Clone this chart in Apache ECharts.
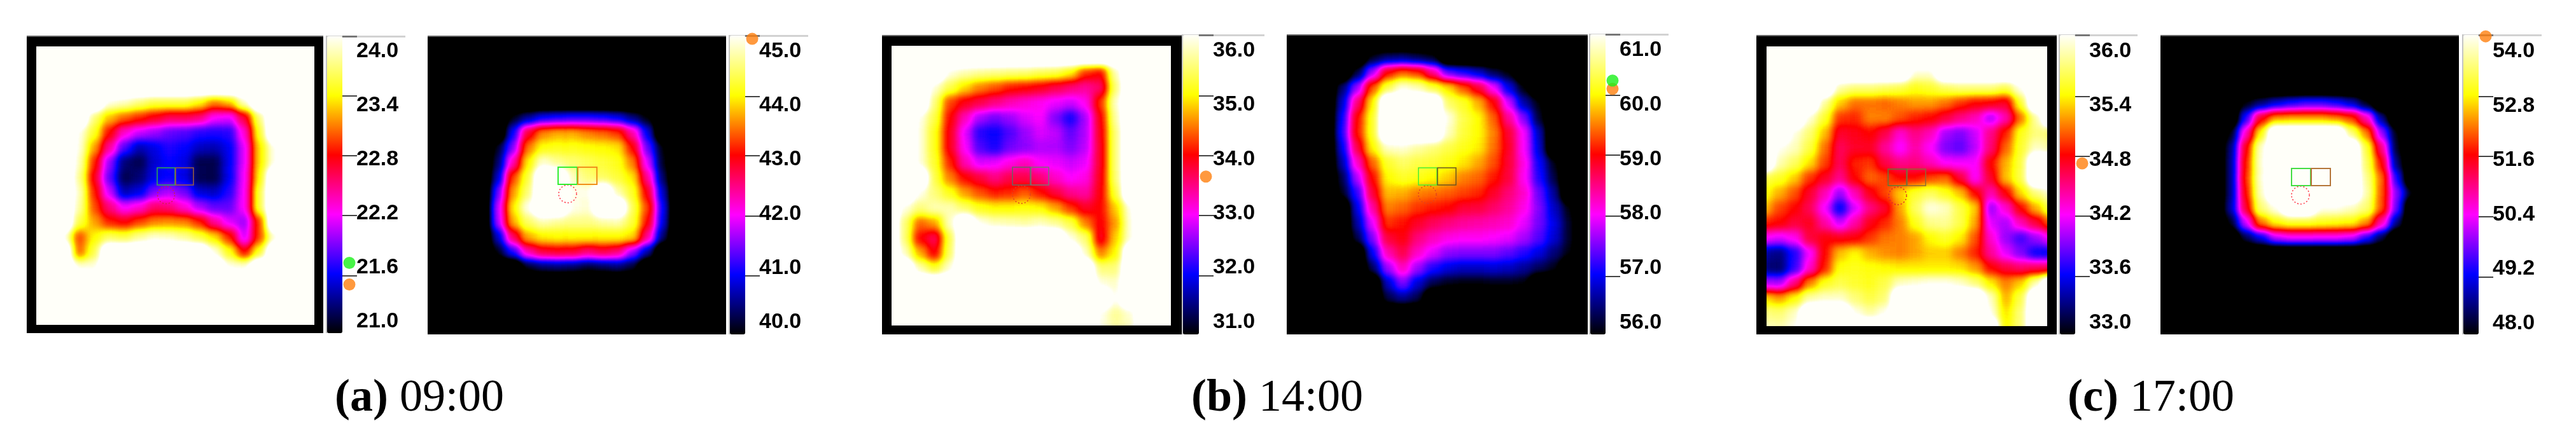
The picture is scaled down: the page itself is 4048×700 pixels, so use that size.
<!DOCTYPE html>
<html>
<head>
<meta charset="utf-8">
<script src="https://cdn.jsdelivr.net/npm/echarts@6/dist/echarts.min.js"></script>
<style>
  html, body { margin: 0; padding: 0; background: #fff; }
  #heat, #over { position: absolute; left: 0; top: 0; width: 4048px; height: 700px; }
</style>
</head>
<body>
<svg width="0" height="0" style="position:absolute">
  <filter id="thermal" x="0" y="0" width="100%" height="100%" color-interpolation-filters="sRGB">
    <feComponentTransfer>
      <feFuncR id="fr" type="table"></feFuncR>
      <feFuncG id="fg" type="table"></feFuncG>
      <feFuncB id="fb" type="table"></feFuncB>
    </feComponentTransfer>
  </filter>
</svg>
<div id="heat"></div>
<div id="over"></div>
<script>
// temperatures, 20 x 20 cells, top row first
const heatA1 = [
  [24.2,24.2,24.2,24.2,24.2,24.2,24.2,24.2,24.2,24.2,24.2,24.2,24.2,24.2,24.2,24.2,24.2,24.2,24.2,24.2],
  [24.2,24.2,24.2,24.2,24.2,24.2,24.2,24.2,24.2,24.2,24.2,24.2,24.2,24.2,24.2,24.2,24.2,24.2,24.2,24.2],
  [24.2,24.2,24.2,24.2,24.2,24.2,24.2,24.2,24.2,24.2,24.2,24.2,24.2,24.2,24.2,24.2,24.2,24.2,24.2,24.2],
  [24.2,24.2,24.2,24.2,24.2,24.2,24.2,24.2,24.2,24.2,24.2,24.2,24.2,24.2,24.2,24.2,24.2,24.2,24.2,24.2],
  [24.2,24.2,24.2,24.2,24.2,24.13,24.04,23.87,23.71,23.71,23.71,23.54,23.21,23.38,24.04,24.2,24.2,24.2,24.2,24.2],
  [24.2,24.2,24.2,24.2,23.87,23.38,23.14,22.98,22.81,22.65,22.65,22.55,22.22,22.15,22.72,23.87,24.2,24.2,24.2,24.2],
  [24.2,24.2,24.2,24.17,23.64,22.88,22.35,22.09,21.96,21.82,21.76,21.66,21.63,21.66,22.32,23.64,24.2,24.2,24.2,24.2],
  [24.2,24.2,24.2,24.13,23.31,22.48,21.76,21.36,21.49,21.63,21.56,21.4,21.36,21.53,22.15,23.47,24.17,24.2,24.2,24.2],
  [24.2,24.2,24.2,24.04,22.98,21.96,21.2,21.1,21.43,21.56,21.49,21.1,21.1,21.53,22.15,23.47,24.17,24.2,24.2,24.2],
  [24.2,24.2,24.2,23.94,22.81,21.82,21.1,21.2,21.49,21.56,21.49,21.1,21.07,21.53,22.19,23.54,24.2,24.2,24.2,24.2],
  [24.2,24.2,24.2,24.04,22.95,22.09,21.36,21.49,21.89,22.02,21.86,21.46,21.4,21.66,22.22,23.71,24.2,24.2,24.2,24.2],
  [24.2,24.2,24.2,23.97,23.08,22.55,22.19,22.32,22.62,22.55,22.32,22.02,21.82,21.82,22.22,23.71,24.2,24.2,24.2,24.2],
  [24.2,24.2,24.2,23.74,23.31,22.95,22.85,23.05,23.21,23.24,23.21,22.98,22.48,22.15,21.96,23.05,24.2,24.2,24.2,24.2],
  [24.2,24.2,24.17,23.05,23.54,23.8,23.71,23.94,24.1,24.07,23.94,23.71,23.47,22.98,22.09,23.05,24.1,24.2,24.2,24.2],
  [24.2,24.2,24.2,23.14,23.74,24.2,24.2,24.2,24.2,24.2,24.2,24.2,24.13,23.61,22.88,23.64,24.2,24.2,24.2,24.2],
  [24.2,24.2,24.2,24.13,24.13,24.2,24.2,24.2,24.2,24.2,24.2,24.2,24.2,24.17,24.13,24.2,24.2,24.2,24.2,24.2],
  [24.2,24.2,24.2,24.2,24.2,24.2,24.2,24.2,24.2,24.2,24.2,24.2,24.2,24.2,24.2,24.2,24.2,24.2,24.2,24.2],
  [24.2,24.2,24.2,24.2,24.2,24.2,24.2,24.2,24.2,24.2,24.2,24.2,24.2,24.2,24.2,24.2,24.2,24.2,24.2,24.2],
  [24.2,24.2,24.2,24.2,24.2,24.2,24.2,24.2,24.2,24.2,24.2,24.2,24.2,24.2,24.2,24.2,24.2,24.2,24.2,24.2],
  [24.2,24.2,24.2,24.2,24.2,24.2,24.2,24.2,24.2,24.2,24.2,24.2,24.2,24.2,24.2,24.2,24.2,24.2,24.2,24.2]
];
const heatA2 = [
  [39.8,39.8,39.8,39.8,39.8,39.8,39.8,39.8,39.8,39.8,39.8,39.8,39.8,39.8,39.8,39.8,39.8,39.8,39.8,39.8],
  [39.8,39.8,39.8,39.8,39.8,39.8,39.8,39.8,39.8,39.8,39.8,39.8,39.8,39.8,39.8,39.8,39.8,39.8,39.8,39.8],
  [39.8,39.8,39.8,39.8,39.8,39.8,39.8,39.8,39.8,39.8,39.8,39.8,39.8,39.8,39.8,39.8,39.8,39.8,39.8,39.8],
  [39.8,39.8,39.8,39.8,39.8,39.8,39.8,39.8,39.8,39.8,39.8,39.8,39.8,39.8,39.8,39.8,39.8,39.8,39.8,39.8],
  [39.8,39.8,39.8,39.8,39.8,39.8,39.8,39.8,39.8,39.8,39.8,39.8,39.8,39.8,39.8,39.8,39.8,39.8,39.8,39.8],
  [39.8,39.8,39.8,39.8,39.8,39.91,40.46,40.9,41.01,41.12,41.12,41.01,40.85,40.35,39.86,39.8,39.8,39.8,39.8,39.8],
  [39.8,39.8,39.8,39.8,39.8,40.9,42.88,43.65,43.82,43.82,43.65,43.54,43.32,42.39,40.79,39.8,39.8,39.8,39.8,39.8],
  [39.8,39.8,39.8,39.8,39.97,41.45,43.6,44.26,44.31,44.31,44.26,44.2,44.09,43.1,41.34,39.86,39.8,39.8,39.8,39.8],
  [39.8,39.8,39.8,39.8,40.24,42.28,44.15,45.14,44.86,44.7,44.59,44.48,44.31,43.65,41.84,39.97,39.8,39.8,39.8,39.8],
  [39.8,39.8,39.8,39.8,40.63,43.38,44.48,45.3,45.3,45.03,44.75,44.64,44.48,44.09,42.44,40.24,39.8,39.8,39.8,39.8],
  [39.8,39.8,39.8,39.8,41.34,43.76,44.7,45.3,45.3,45.25,45.25,45.3,44.97,44.37,42.99,40.63,39.8,39.8,39.8,39.8],
  [39.8,39.8,39.8,39.8,41.73,44.09,45.25,45.3,45.3,45.25,45.14,45.3,45.3,44.59,43.38,40.9,39.8,39.8,39.8,39.8],
  [39.8,39.8,39.8,39.8,41.62,43.82,44.64,44.97,44.86,44.81,44.81,44.92,44.97,44.48,43.1,40.79,39.8,39.8,39.8,39.8],
  [39.8,39.8,39.8,39.8,40.63,42.66,43.82,44.15,44.2,44.2,44.2,44.2,44.2,44.04,42.44,40.3,39.8,39.8,39.8,39.8],
  [39.8,39.8,39.8,39.8,39.91,41.01,42.33,42.83,42.94,42.88,42.55,42.77,42.55,41.56,40.52,39.8,39.8,39.8,39.8,39.8],
  [39.8,39.8,39.8,39.8,39.8,39.8,39.97,40.24,40.3,40.24,40.02,40.19,40.3,40.02,39.8,39.8,39.8,39.8,39.8,39.8],
  [39.8,39.8,39.8,39.8,39.8,39.8,39.8,39.8,39.8,39.8,39.8,39.8,39.8,39.8,39.8,39.8,39.8,39.8,39.8,39.8],
  [39.8,39.8,39.8,39.8,39.8,39.8,39.8,39.8,39.8,39.8,39.8,39.8,39.8,39.8,39.8,39.8,39.8,39.8,39.8,39.8],
  [39.8,39.8,39.8,39.8,39.8,39.8,39.8,39.8,39.8,39.8,39.8,39.8,39.8,39.8,39.8,39.8,39.8,39.8,39.8,39.8],
  [39.8,39.8,39.8,39.8,39.8,39.8,39.8,39.8,39.8,39.8,39.8,39.8,39.8,39.8,39.8,39.8,39.8,39.8,39.8,39.8]
];
const heatB1 = [
  [36.3,36.3,36.3,36.3,36.3,36.3,36.3,36.3,36.3,36.3,36.3,36.3,36.3,36.3,36.3,36.3,36.3,36.3,36.3,36.3],
  [36.3,36.3,36.3,36.3,36.3,36.3,36.3,36.3,36.3,36.3,36.3,36.3,36.3,36.3,36.3,36.3,36.3,36.3,36.3,36.3],
  [36.3,36.3,36.3,36.3,36.19,35.97,35.86,35.81,35.75,35.7,35.59,35.53,35.2,34.32,34.1,35.97,36.3,36.3,36.3,36.3],
  [36.3,36.3,36.3,36.14,35.53,35.04,34.65,34.43,34.21,34.1,33.99,33.77,33.61,33.44,33.66,35.7,36.3,36.3,36.3,36.3],
  [36.3,36.3,36.3,35.75,34.38,33.99,33.77,33.55,33.33,33.17,33.06,32.89,32.78,33.06,34.32,36.08,36.3,36.3,36.3,36.3],
  [36.3,36.3,36.25,35.53,34.1,33.28,32.62,32.4,32.56,32.84,33,32.45,31.96,32.62,34.05,35.92,36.3,36.3,36.3,36.3],
  [36.3,36.3,36.19,35.31,33.99,32.89,32.07,31.9,32.23,32.56,32.84,32.73,32.34,32.67,33.99,35.75,36.3,36.3,36.3,36.3],
  [36.3,36.3,36.19,35.31,33.99,33,32.23,32.01,32.4,32.51,32.67,32.67,32.45,32.73,33.94,35.75,36.3,36.3,36.3,36.3],
  [36.3,36.3,36.19,35.42,34.27,33.33,32.84,32.89,33.11,33.28,33,32.89,32.78,32.89,33.94,35.75,36.3,36.3,36.3,36.3],
  [36.3,36.3,36.3,35.53,34.65,34.1,33.83,33.55,33.77,33.77,33.61,33.22,33,33.11,33.99,35.7,36.3,36.3,36.3,36.3],
  [36.3,36.3,36.25,35.75,35.31,34.76,34.43,34.21,34.27,34.49,34.16,33.83,33.5,33.39,34.05,35.48,36.3,36.3,36.3,36.3],
  [36.3,36.19,35.75,35.97,35.97,35.64,35.31,35.2,35.2,35.26,35.2,34.82,34.32,33.94,34.1,34.98,36.25,36.3,36.3,36.3],
  [36.3,35.75,34.54,34.76,36.03,36.3,36.25,36.03,35.97,35.92,36.03,35.86,35.53,34.65,34.05,34.76,36.19,36.3,36.3,36.3],
  [36.3,35.75,34.1,33.72,35.53,36.3,36.3,36.3,36.3,36.3,36.3,36.3,36.19,35.7,33.94,34.98,36.19,36.3,36.3,36.3],
  [36.3,36.08,34.87,34.05,35.64,36.3,36.3,36.3,36.3,36.3,36.3,36.3,36.3,36.08,34.65,35.2,36.3,36.3,36.3,36.3],
  [36.3,36.3,35.97,35.42,36.14,36.3,36.3,36.3,36.3,36.3,36.3,36.3,36.3,36.3,35.75,35.75,36.3,36.3,36.3,36.3],
  [36.3,36.3,36.3,36.3,36.3,36.3,36.3,36.3,36.3,36.3,36.3,36.3,36.3,36.3,36.19,36.08,36.3,36.3,36.3,36.3],
  [36.3,36.3,36.3,36.3,36.3,36.3,36.3,36.3,36.3,36.3,36.3,36.3,36.3,36.3,36.3,36.25,36.3,36.3,36.3,36.3],
  [36.3,36.3,36.3,36.3,36.3,36.3,36.3,36.3,36.3,36.3,36.3,36.3,36.3,36.3,36.25,35.86,36.14,36.3,36.3,36.3],
  [36.3,36.3,36.3,36.3,36.3,36.3,36.3,36.3,36.3,36.3,36.3,36.3,36.3,36.3,36.19,35.92,36.03,36.3,36.3,36.3]
];
const heatB2 = [
  [55.8,55.8,55.8,55.8,55.8,55.8,55.8,55.8,55.8,55.8,55.8,55.8,55.8,55.8,55.8,55.8,55.8,55.8,55.8,55.8],
  [55.8,55.8,55.8,55.8,55.8,55.97,56.3,56.35,56.19,55.97,55.8,55.8,55.8,55.8,55.8,55.8,55.8,55.8,55.8,55.8],
  [55.8,55.8,55.8,55.8,56.08,57.62,59.1,59.54,59.32,58.5,57.34,57.01,56.68,56.19,55.86,55.8,55.8,55.8,55.8,55.8],
  [55.8,55.8,55.8,56.24,57.56,59.43,60.53,61.19,60.97,60.48,60.04,59.43,58.88,57.95,56.79,55.86,55.8,55.8,55.8,55.8],
  [55.8,55.8,55.8,56.63,58.55,60.15,61.3,61.3,61.3,61.3,60.64,60.37,59.87,59.1,57.78,56.52,55.86,55.8,55.8,55.8],
  [55.8,55.8,55.8,56.9,59.1,60.37,61.3,61.3,61.3,61.3,61.19,60.53,60.2,59.49,58.44,57.45,56.02,55.8,55.8,55.8],
  [55.8,55.8,55.8,57.01,59.16,60.37,61.3,61.3,61.3,61.3,61.03,60.48,60.2,59.65,58.88,57.95,56.57,55.8,55.8,55.8],
  [55.8,55.8,55.8,56.79,58.77,60.2,61.08,61.14,60.92,60.75,60.53,60.31,60.15,59.6,58.94,58,56.68,55.8,55.8,55.8],
  [55.8,55.8,55.8,56.52,58.22,59.54,60.42,60.64,60.53,60.48,60.31,60.09,59.82,59.43,58.88,58.11,56.9,55.91,55.8,55.8],
  [55.8,55.8,55.8,56.13,57.67,59.1,60.2,60.37,60.31,60.2,59.98,59.65,59.54,59.21,58.83,58.06,57.01,56.08,55.8,55.8],
  [55.8,55.8,55.8,55.91,57.12,58.83,59.93,59.87,59.65,59.6,59.49,59.38,59.27,58.94,58.61,58.22,57.34,56.41,55.8,55.8],
  [55.8,55.8,55.8,55.8,56.79,58.39,59.65,59.54,59.32,59.21,59.1,58.88,58.83,58.66,58.44,58.11,57.45,56.63,55.86,55.8],
  [55.8,55.8,55.8,55.8,56.52,57.89,59.32,59.16,58.94,58.72,58.55,58.44,58.39,58.33,58.22,57.89,57.4,56.79,55.97,55.8],
  [55.8,55.8,55.8,55.8,56.13,57.45,58.83,59.05,58.55,58.28,58.11,58.06,58.06,58,57.89,57.62,57.23,56.68,55.97,55.8],
  [55.8,55.8,55.8,55.8,55.8,56.85,58.33,58.77,58.22,57.84,57.51,57.45,57.45,57.45,57.29,57.07,56.74,56.3,55.86,55.8],
  [55.8,55.8,55.8,55.8,55.8,56.19,57.56,58.28,57.56,57.01,56.74,56.63,56.63,56.68,56.63,56.46,56.19,55.91,55.8,55.8],
  [55.8,55.8,55.8,55.8,55.8,55.8,56.63,57.45,56.68,56.13,55.91,55.86,55.86,55.91,55.91,55.86,55.8,55.8,55.8,55.8],
  [55.8,55.8,55.8,55.8,55.8,55.8,56.08,56.41,56.13,55.8,55.8,55.8,55.8,55.8,55.8,55.8,55.8,55.8,55.8,55.8],
  [55.8,55.8,55.8,55.8,55.8,55.8,55.8,55.8,55.8,55.8,55.8,55.8,55.8,55.8,55.8,55.8,55.8,55.8,55.8,55.8],
  [55.8,55.8,55.8,55.8,55.8,55.8,55.8,55.8,55.8,55.8,55.8,55.8,55.8,55.8,55.8,55.8,55.8,55.8,55.8,55.8]
];
const heatC1 = [
  [36.2,36.2,36.2,36.2,36.2,36.2,36.2,36.2,36.2,36.2,36.2,36.2,36.2,36.2,36.2,36.2,36.2,36.2,36.2,36.2],
  [36.2,36.2,36.2,36.2,36.2,36.2,36.2,36.2,36.2,36.2,36.2,36.2,36.2,36.2,36.2,36.2,36.2,36.2,36.2,36.2],
  [36.2,36.2,36.2,36.2,36.2,36.2,36.2,36.2,36.2,36.2,36.1,36.1,36.2,36.2,36.2,36.2,36.2,36.2,36.2,36.2],
  [36.2,36.2,36.2,36.2,36.2,35.97,35.84,35.84,35.8,35.74,35.61,35.67,35.8,35.87,35.87,35.87,35.74,36.17,36.2,36.2],
  [36.2,36.2,36.2,36.2,35.94,35.41,35.18,35.18,35.14,35.21,35.28,35.28,35.18,35.01,34.88,34.85,34.75,35.67,36.2,36.2],
  [36.2,36.2,36.2,36.1,35.67,35.01,34.98,35.21,35.21,35.08,34.95,34.88,34.72,34.55,34.39,34.02,34.42,35.18,35.97,36.2],
  [36.2,36.2,36.13,35.84,35.38,34.75,34.81,34.88,34.68,34.35,34.55,34.39,33.99,33.89,34.09,34.52,34.95,35.61,35.87,35.84],
  [36.2,36.17,36.04,35.71,35.18,34.65,34.78,34.78,34.48,34.19,34.45,34.22,33.89,33.79,34.06,34.58,35.14,35.67,36.07,35.97],
  [36.2,36,35.8,35.47,35.05,34.65,34.95,35.01,34.68,34.52,34.55,34.39,34.22,34.19,34.19,34.88,35.34,35.71,36.2,36.2],
  [35.74,35.64,35.41,35.01,34.78,34.52,34.88,35.14,35.05,34.88,34.91,35.05,35.14,34.72,34.22,34.75,35.38,35.74,36.2,36.2],
  [35.57,35.34,35.08,34.75,34.42,33.96,34.42,34.81,35.05,35.41,35.67,35.8,35.61,35.38,34.88,34.42,34.85,35.44,35.87,36.1],
  [35.38,35.05,34.88,34.65,34.19,33.53,34.12,34.55,34.75,35.31,35.8,36.13,36.04,35.71,35.41,33.96,34.35,34.88,35.34,35.8],
  [34.95,34.88,34.72,34.81,34.45,34.09,34.45,34.81,34.98,35.21,35.61,35.9,35.94,35.74,35.31,34.15,34.02,34.42,34.72,35.14],
  [34.22,34.12,34.25,34.72,34.85,34.81,34.85,35.01,35.18,35.21,35.31,35.54,35.64,35.51,35.08,34.35,33.96,33.73,33.96,34.22],
  [33.3,33.23,33.63,34.19,34.88,35.38,35.54,35.34,35.24,35.21,35.31,35.41,35.41,35.21,34.95,34.48,34.15,33.89,33.56,33.53],
  [33.2,33.16,33.69,34.35,34.95,35.57,35.61,35.57,35.54,35.51,35.51,35.51,35.51,35.47,35.28,34.88,34.72,34.62,34.65,34.68],
  [34.02,33.99,34.55,35.21,35.61,35.74,35.67,35.61,35.74,36.04,36.1,36.17,36.17,36.07,35.87,35.51,35.21,35.41,36,36.2],
  [35.44,35.28,35.54,35.97,36.07,36.07,35.87,35.71,35.84,36.2,36.2,36.2,36.2,36.2,36.2,36.04,35.34,35.74,36.2,36.2],
  [35.87,35.84,36.04,36.2,36.2,36.2,36.17,35.97,36.17,36.2,36.2,36.2,36.2,36.2,36.2,36.17,35.47,35.87,36.2,36.2],
  [36.04,36,36.17,36.2,36.2,36.2,36.2,36.2,36.2,36.2,36.2,36.2,36.2,36.2,36.2,36.2,35.54,35.87,36.2,36.2]
];
const heatC2 = [
  [47.7,47.7,47.7,47.7,47.7,47.7,47.7,47.7,47.7,47.7,47.7,47.7,47.7,47.7,47.7,47.7,47.7,47.7,47.7,47.7],
  [47.7,47.7,47.7,47.7,47.7,47.7,47.7,47.7,47.7,47.7,47.7,47.7,47.7,47.7,47.7,47.7,47.7,47.7,47.7,47.7],
  [47.7,47.7,47.7,47.7,47.7,47.7,47.7,47.7,47.7,47.7,47.7,47.7,47.7,47.7,47.7,47.7,47.7,47.7,47.7,47.7],
  [47.7,47.7,47.7,47.7,47.7,47.7,47.7,47.7,47.7,47.7,47.7,47.7,47.7,47.7,47.7,47.7,47.7,47.7,47.7,47.7],
  [47.7,47.7,47.7,47.7,47.7,47.77,48.3,48.84,49.17,49.38,49.38,49.17,48.71,47.83,47.7,47.7,47.7,47.7,47.7,47.7],
  [47.7,47.7,47.7,47.7,47.7,49.24,51.59,52.52,52.59,52.59,52.59,52.39,52.06,50.78,48.44,47.7,47.7,47.7,47.7,47.7],
  [47.7,47.7,47.7,47.7,47.77,50.65,53.06,54.4,54.4,54.4,54.4,54.4,53.73,52.39,49.84,47.77,47.7,47.7,47.7,47.7],
  [47.7,47.7,47.7,47.7,48.3,51.59,54.13,54.4,54.4,54.4,54.4,54.4,54.4,53.4,51.05,47.9,47.7,47.7,47.7,47.7],
  [47.7,47.7,47.7,47.7,48.37,51.79,54.2,54.4,54.4,54.4,54.4,54.4,54.4,53.6,51.72,48.3,47.7,47.7,47.7,47.7],
  [47.7,47.7,47.7,47.7,48.37,51.92,54.2,54.4,54.4,54.4,54.4,54.4,54.4,53.86,52.26,49.17,47.7,47.7,47.7,47.7],
  [47.7,47.7,47.7,47.7,48.37,51.72,54.07,54.4,54.4,54.4,54.4,54.4,54.4,54,52.19,49.71,47.77,47.7,47.7,47.7],
  [47.7,47.7,47.7,47.7,48.57,51.45,53.73,54.33,54.4,54.4,54.33,54.33,54.13,53.73,52.12,49.51,47.7,47.7,47.7,47.7],
  [47.7,47.7,47.7,47.7,47.83,50.11,52.32,53.06,53.26,53.26,53.19,53.13,53.06,52.46,50.78,48.37,47.7,47.7,47.7,47.7],
  [47.7,47.7,47.7,47.7,47.7,48.1,48.91,50.05,50.31,50.31,50.25,50.25,50.11,49.24,48.1,47.7,47.7,47.7,47.7,47.7],
  [47.7,47.7,47.7,47.7,47.7,47.7,47.7,47.7,47.7,47.7,47.7,47.7,47.7,47.7,47.7,47.7,47.7,47.7,47.7,47.7],
  [47.7,47.7,47.7,47.7,47.7,47.7,47.7,47.7,47.7,47.7,47.7,47.7,47.7,47.7,47.7,47.7,47.7,47.7,47.7,47.7],
  [47.7,47.7,47.7,47.7,47.7,47.7,47.7,47.7,47.7,47.7,47.7,47.7,47.7,47.7,47.7,47.7,47.7,47.7,47.7,47.7],
  [47.7,47.7,47.7,47.7,47.7,47.7,47.7,47.7,47.7,47.7,47.7,47.7,47.7,47.7,47.7,47.7,47.7,47.7,47.7,47.7],
  [47.7,47.7,47.7,47.7,47.7,47.7,47.7,47.7,47.7,47.7,47.7,47.7,47.7,47.7,47.7,47.7,47.7,47.7,47.7,47.7],
  [47.7,47.7,47.7,47.7,47.7,47.7,47.7,47.7,47.7,47.7,47.7,47.7,47.7,47.7,47.7,47.7,47.7,47.7,47.7,47.7]
];

// colour scale range of each image
const heatMin = [20.9, 39.8, 30.8, 55.8, 32.9, 47.7];
const heatMax = [24.2, 45.3, 36.3, 61.3, 36.2, 54.4];

// colour bar axes
const barMin = [20.87, 39.77, 30.77, 55.78, 32.87, 47.75];
const barMax = [24.165, 45.29, 36.29, 61.29, 36.18, 54.36];
const labelsA1 = [21.0, 21.6, 22.2, 22.8, 23.4, 24.0];
const labelsA2 = [40.0, 41.0, 42.0, 43.0, 44.0, 45.0];
const labelsB1 = [31.0, 32.0, 33.0, 34.0, 35.0, 36.0];
const labelsB2 = [56.0, 57.0, 58.0, 59.0, 60.0, 61.0];
const labelsC1 = [33.0, 33.6, 34.2, 34.8, 35.4, 36.0];
const labelsC2 = [48.0, 49.2, 50.4, 51.6, 52.8, 54.0];
const barLabels = [labelsA1, labelsA2, labelsB1, labelsB2, labelsC1, labelsC2];

// tick places on the bars, in label steps above the lowest label
const shortTicks = [5.06, 4.62, 4.38, 3.95, 3.74, 3.51, 3.29, 2.84, 2.62, 2.4, 1.75, 1.53, 1.32, 1.09, 0.64, 0.41, 0.2];
const longTicks = [4.17, 3.07, 1.96, 0.85];

// readings marked on the bars
const greenDots = [[21.65], [], [], [60.44], [], []];
const orangeDots = [[21.41], [45.23], [33.68], [60.29], [34.76], [54.33]];

const captions = ['(a)', '(b)', '(c)'];
const times = ['09:00', '14:00', '17:00'];

const heats = [heatA1, heatA2, heatB1, heatB2, heatC1, heatC2];

// layout, px on the 4048x700 page
const layout = [
  { cell: [42, 56, 472, 470], box: [42, 56, 466, 468], inner: [57, 73, 437, 438], bar: [514, 57, 24, 467], stripEnd: 637 },
  { cell: [676, 56, 472, 470], box: [672, 56, 469, 470], inner: null, bar: [1147, 56, 24, 470], stripEnd: 1270 },
  { cell: [1386, 55, 474, 474], box: [1386, 55, 471, 471], inner: [1401, 72, 439, 440], bar: [1859, 55, 25, 471], stripEnd: 1987 },
  { cell: [2025, 55, 478, 474], box: [2022, 54, 473, 472], inner: null, bar: [2499, 54, 24, 472], stripEnd: 2622 },
  { cell: [2761, 56, 474, 472], box: [2760, 55, 472, 471], inner: [2776, 73, 441, 440], bar: [3237, 55, 24, 471], stripEnd: 3359 },
  { cell: [3398, 56, 476, 472], box: [3395, 55, 469, 471], inner: null, bar: [3871, 55, 24, 471], stripEnd: 3994 }
];
// measuring boxes and the dashed circle, px inside each cell area
const rois = [
  { x: 205, y: 208, w: 28, h: 27, gap: 1, cx: 219, cy: 251, r: 13.5, green: '#35b04a', orange: '#a0623a', lw: 1.5, circle: '#d0204a' },
  { x: 201, y: 207, w: 30, h: 27, gap: 1, cx: 216, cy: 249, r: 14, green: '#33ee33', orange: '#f0901a', lw: 2, circle: '#ff3040' },
  { x: 205, y: 208, w: 28, h: 28, gap: 1, cx: 219, cy: 251, r: 14, green: '#666666', orange: '#777777', lw: 1.5, circle: '#e04020' },
  { x: 204, y: 209, w: 29, h: 27, gap: 1, cx: 218, cy: 251, r: 14, green: '#44ee33', orange: '#665522', lw: 1.5, circle: '#e04020' },
  { x: 206, y: 210, w: 29, h: 26, gap: 1, cx: 221, cy: 252, r: 14, green: '#5c7a3a', orange: '#8a6a3a', lw: 1.5, circle: '#e02030' },
  { x: 203, y: 209, w: 30, h: 27, gap: 1, cx: 217, cy: 251, r: 14, green: '#44dd44', orange: '#b5763a', lw: 2, circle: '#ff3040' }
];
const captionCenters = [659, 2007, 3380];

const thermal = ['#000000', '#0000ff', '#ff00ff', '#ff0000', '#ffff00', '#fffffa'];

// the real temperatures run past the scale on both ends, so saturated cells are
// drawn one colour step beyond it; this keeps the contours around them tight
const beyond = 0.2;
const thermalWide = [thermal[0], ...thermal, thermal[thermal.length - 1]];

// the heat layer is drawn in grey, blurred, then mapped through the thermal colours
const hex = (c, i) => parseInt(c.substr(1 + i * 2, 2), 16) / 255;
['fr', 'fg', 'fb'].forEach((id, ch) => {
  const vals = thermalWide.map((c) => hex(c, ch).toFixed(3)).join(' ');
  document.getElementById(id).setAttribute('tableValues', vals);
});
const heatDom = document.getElementById('heat');
heatDom.style.filter = 'blur(7px) url(#thermal)';
heatDom.style.clipPath = 'path("' + layout.map((p) => {
  const [x, y, w, h] = p.box;
  return `M${x} ${y}h${w}v${h}h${-w}z`;
}).join(' ') + '")';

const heatChart = echarts.init(heatDom, null, { renderer: 'canvas' });
const cols = heats[0][0].map((_, i) => i);
const rows = heats[0].map((_, i) => i);
const extend = (i) => (heatMax[i] - heatMin[i]) * beyond;
heatChart.setOption({
  animation: false,
  backgroundColor: '#000',
  // white under the framed images, so that the black page behind does not blur into them
  graphic: { elements: layout.filter((p) => p.inner).map((p) => ({
    type: 'rect', silent: true, z: -1,
    shape: { x: p.cell[0] - 40, y: p.cell[1] - 40, width: p.cell[2] + 80, height: p.cell[3] + 80 },
    style: { fill: '#fff' }
  })) },
  grid: layout.map((p) => ({ left: p.cell[0], top: p.cell[1], width: p.cell[2], height: p.cell[3] })),
  xAxis: layout.map((p, i) => ({ type: 'category', gridIndex: i, data: cols, show: false })),
  yAxis: layout.map((p, i) => ({ type: 'category', gridIndex: i, data: rows, inverse: true, show: false })),
  visualMap: layout.map((p, i) => ({
    show: false,
    seriesIndex: i,
    dimension: 2,
    min: heatMin[i] - extend(i),
    max: heatMax[i] + extend(i),
    inRange: { color: ['#000000', '#ffffff'] }
  })),
  series: heats.map((rowsData, i) => ({
    type: 'heatmap',
    xAxisIndex: i,
    yAxisIndex: i,
    progressive: 0,
    silent: true,
    data: rowsData.flatMap((row, r) => row.map((v, c) => {
      if (v >= heatMax[i]) return [c, r, heatMax[i] + extend(i)];
      if (v <= heatMin[i]) return [c, r, heatMin[i] - extend(i)];
      return [c, r, v];
    }))
  }))
});

// frames, colour bars, ticks, markers and captions on top
const rect = (x, y, w, h, fill) => ({ type: 'rect', silent: true, shape: { x, y, width: w, height: h }, style: { fill } });
const graphics = [];
layout.forEach((p, i) => {
  const [bx, by, bw, bh] = p.box;
  if (p.inner) {
    const [ix, iy, iw, ih] = p.inner;
    graphics.push(rect(bx, by, bw, iy - by, '#000'));
    graphics.push(rect(bx, iy + ih, bw, by + bh - iy - ih, '#000'));
    graphics.push(rect(bx, by, ix - bx, bh, '#000'));
    graphics.push(rect(ix + iw, by, bx + bw - ix - iw, bh, '#000'));
  }
  graphics.push(rect(bx, by, bw, 2, '#666'));
  const [x, y, w, h] = p.bar;
  graphics.push(rect(x - 2, y - 1, 3, h + 1, '#c4c4c4'));
  graphics.push(rect(x, y - 1, p.stripEnd - x, 3, '#d2d2d2'));
  graphics.push(rect(x + w, y - 1, 23, 3, '#777'));
  const roi = rois[i];
  const ox = p.cell[0];
  const oy = p.cell[1];
  graphics.push({ type: 'circle', silent: true, shape: { cx: ox + roi.cx, cy: oy + roi.cy, r: roi.r }, style: { fill: 'none', stroke: roi.circle, lineWidth: 1.5, lineDash: [2, 3] } });
  graphics.push({ type: 'rect', silent: true, shape: { x: ox + roi.x, y: oy + roi.y, width: roi.w, height: roi.h }, style: { fill: 'none', stroke: roi.green, lineWidth: roi.lw } });
  graphics.push({ type: 'rect', silent: true, shape: { x: ox + roi.x + roi.w + roi.gap, y: oy + roi.y, width: roi.w, height: roi.h }, style: { fill: 'none', stroke: roi.orange, lineWidth: roi.lw } });
});

const labelFont = { fontFamily: 'Liberation Sans', fontWeight: 'bold', fontSize: 34, color: '#000' };
const overChart = echarts.init(document.getElementById('over'), null, { renderer: 'canvas' });
const tickAt = (list, i) => {
  const first = barLabels[i][0];
  const step = barLabels[i][1] - first;
  return list.map((f) => +(first + f * step).toFixed(3));
};
const yAxes = [];
layout.forEach((p, i) => {
  const common = { type: 'value', gridIndex: i, min: barMin[i], max: barMax[i], position: 'right', splitLine: { show: false }, axisLine: { show: false } };
  yAxes.push({
    ...common,
    axisTick: { show: true, length: 9, lineStyle: { color: '#555', width: 2 }, customValues: tickAt(shortTicks, i) },
    axisLabel: { ...labelFont, margin: 22, customValues: barLabels[i], formatter: (v) => v.toFixed(1) }
  });
  yAxes.push({
    ...common,
    axisTick: { show: true, length: 23, lineStyle: { color: '#444', width: 2 }, customValues: tickAt(longTicks, i) },
    axisLabel: { show: false }
  });
});
const dotSeries = (values, color, i) => ({
  type: 'scatter',
  xAxisIndex: i,
  yAxisIndex: i * 2,
  symbol: 'circle',
  symbolSize: 19,
  symbolOffset: [11, 0],
  silent: true,
  clip: false,
  itemStyle: { color },
  data: values.map((v) => [1, v])
});
overChart.setOption({
  animation: false,
  backgroundColor: 'transparent',
  title: captions.map((c, i) => ({
    text: `{b|${c}} ${times[i]}`,
    left: captionCenters[i],
    top: 591,
    textAlign: 'center',
    padding: 0,
    textStyle: {
      fontFamily: 'Liberation Serif',
      fontWeight: 'normal',
      fontSize: 72,
      color: '#000',
      rich: { b: { fontFamily: 'Liberation Serif', fontWeight: 'bold', fontSize: 72, color: '#000' } }
    }
  })),
  grid: layout.map((p) => ({ left: p.bar[0], top: p.bar[1], width: p.bar[2], height: p.bar[3] })),
  xAxis: layout.map((p, i) => ({ type: 'value', gridIndex: i, min: 0, max: 1, show: false })),
  yAxis: yAxes,
  visualMap: layout.map((p, i) => ({
    type: 'continuous',
    show: true,
    seriesIndex: [],
    min: barMin[i],
    max: barMax[i],
    left: p.bar[0],
    top: p.bar[1],
    itemWidth: p.bar[2],
    itemHeight: p.bar[3],
    padding: 0,
    calculable: false,
    hoverLink: false,
    inRange: { color: thermal }
  })),
  graphic: { elements: graphics },
  series: layout.flatMap((p, i) => [
    dotSeries(orangeDots[i], '#ff7f0e', i),
    dotSeries(greenDots[i], '#19f019', i)
  ])
});
</script>
</body>
</html>
